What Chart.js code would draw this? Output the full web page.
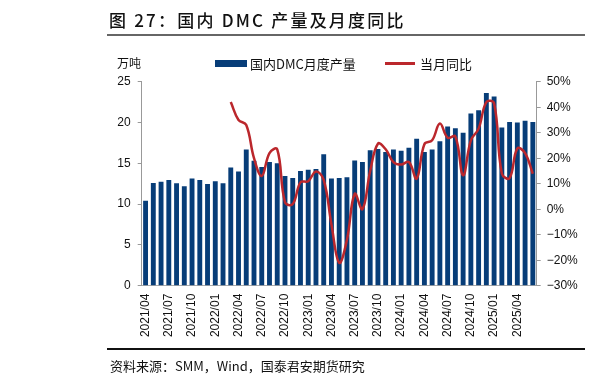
<!DOCTYPE html>
<html>
<head>
<meta charset="utf-8">
<script src="https://cdn.jsdelivr.net/npm/chart.js@4"></script>
<style>
  body { margin: 0; background: #fff; }
  #wrap { position: relative; width: 590px; height: 385px; overflow: hidden; }
  #chart { position: absolute; left: 0; top: 0; }
  .txt { position: absolute; font-family: "Noto Sans CJK SC", sans-serif; color: #111; white-space: nowrap; }
  .rule { position: absolute; left: 107px; width: 478px; }
</style>
</head>
<body>
<div id="wrap">
  <canvas id="chart" width="590" height="385"></canvas>
  <div class="txt" style="left:109px; top:7px; font-size:17px; font-weight:500; letter-spacing:2.2px;">图 27：国内 DMC 产量及月度同比</div>
  <div class="rule" style="top:34px; height:2px; background:#666;"></div>
  <div class="txt" style="left:117px; top:54px; font-size:12px;">万吨</div>
  <div style="position:absolute; left:215px; top:60px; width:32px; height:7px; background:#073d78;"></div>
  <div class="txt" style="left:250px; top:54px; font-size:13px;">国内DMC月度产量</div>
  <div style="position:absolute; left:385px; top:62px; width:30px; height:2.5px; background:#bb272c;"></div>
  <div class="txt" style="left:420px; top:54px; font-size:13px;">当月同比</div>
  <div class="rule" style="top:348px; height:1.5px; background:#111;"></div>
  <div class="txt" style="left:110px; top:356px; font-size:13px;">资料来源：SMM，Wind，国泰君安期货研究</div>
</div>
<script>
// 月份（2021/04 - 2025/06）
const months = [
  '2021/04','2021/05','2021/06','2021/07','2021/08','2021/09','2021/10','2021/11','2021/12',
  '2022/01','2022/02','2022/03','2022/04','2022/05','2022/06','2022/07','2022/08','2022/09','2022/10','2022/11','2022/12',
  '2023/01','2023/02','2023/03','2023/04','2023/05','2023/06','2023/07','2023/08','2023/09','2023/10','2023/11','2023/12',
  '2024/01','2024/02','2024/03','2024/04','2024/05','2024/06','2024/07','2024/08','2024/09','2024/10','2024/11','2024/12',
  '2025/01','2025/02','2025/03','2025/04','2025/05','2025/06'
];

// 国内DMC月度产量（万吨）
const output = [
  10.4, 12.6, 12.75, 12.95, 12.55, 12.2, 13.15, 12.95, 12.45,
  12.8, 12.55, 14.5, 14.0, 16.7, 15.3, 14.55, 15.15, 15.0, 13.45, 13.2, 14.05,
  14.2, 14.3, 16.1, 13.15, 13.2, 13.3, 15.35, 15.15, 16.6, 16.75, 16.4, 16.7,
  16.55, 16.9, 18.0, 16.4, 16.7, 17.7, 19.5, 19.3, 18.75, 21.1, 21.5, 23.6,
  23.2, 19.4, 20.05, 20.0, 20.2, 20.05
];

// 当月同比（%）
const yoy = [
  null, null, null, null, null, null, null, null, null,
  null, null, 42, 35, 33, 20, 13, 22, 23.5, 2.8, 2, 10.5,
  11, 14.8, 11.5, -6, -21, -12, 6, 0, 15, 25.7, 23.5, 18.5,
  17.5, 18.5, 12, 25.5, 27, 33.6, 28, 28.5, 13.3, 27, 31.6, 42,
  41.5, 14, 12.2, 23.8, 22, 13.9
];

const tickFont = { family: '"Liberation Sans", Arial, sans-serif', size: 12 };

new Chart(document.getElementById('chart'), {
  data: {
    labels: months,
    datasets: [
      {
        type: 'line',
        label: '当月同比',
        data: yoy,
        yAxisID: 'y1',
        borderColor: '#bb272c',
        borderWidth: 2.5,
        pointRadius: 0,
        tension: 0.4,
        order: 0
      },
      {
        type: 'bar',
        label: '国内DMC月度产量',
        data: output,
        yAxisID: 'y',
        backgroundColor: '#073d78',
        categoryPercentage: 0.9,
        barPercentage: 0.7,
        order: 1
      }
    ]
  },
  options: {
    responsive: false,
    animation: false,
    devicePixelRatio: 1,
    layout: { padding: { left: 100, right: 5, top: 81.7, bottom: 0 } },
    plugins: { legend: { display: false }, tooltip: { enabled: false } },
    scales: {
      x: {
        grid: { drawOnChartArea: false, drawTicks: false },
        border: { color: '#aaa' },
        ticks: {
          autoSkip: false, maxRotation: 90, minRotation: 90, padding: 8,
          font: tickFont, color: '#111',
          callback: (v, i) => i % 3 === 0 ? months[i] : ''
        },
        afterFit: s => { s.height = 385 - 285.7; }
      },
      y: {
        position: 'left', min: 0, max: 25,
        grid: { drawOnChartArea: false, tickLength: 4, color: '#999' },
        border: { color: '#999' },
        ticks: { stepSize: 5, padding: 7, font: tickFont, color: '#111' },
        afterFit: s => { s.width = 41.7; }
      },
      y1: {
        position: 'right', min: -30, max: 50,
        grid: { drawOnChartArea: false, tickLength: 4, color: '#999' },
        border: { color: '#999' },
        ticks: {
          stepSize: 10, padding: 6, font: tickFont, color: '#111',
          callback: v => (v < 0 ? '−' + Math.abs(v) : v) + '%'
        },
        afterFit: s => { s.width = 48.3; }
      }
    }
  }
});
</script>
</body>
</html>
